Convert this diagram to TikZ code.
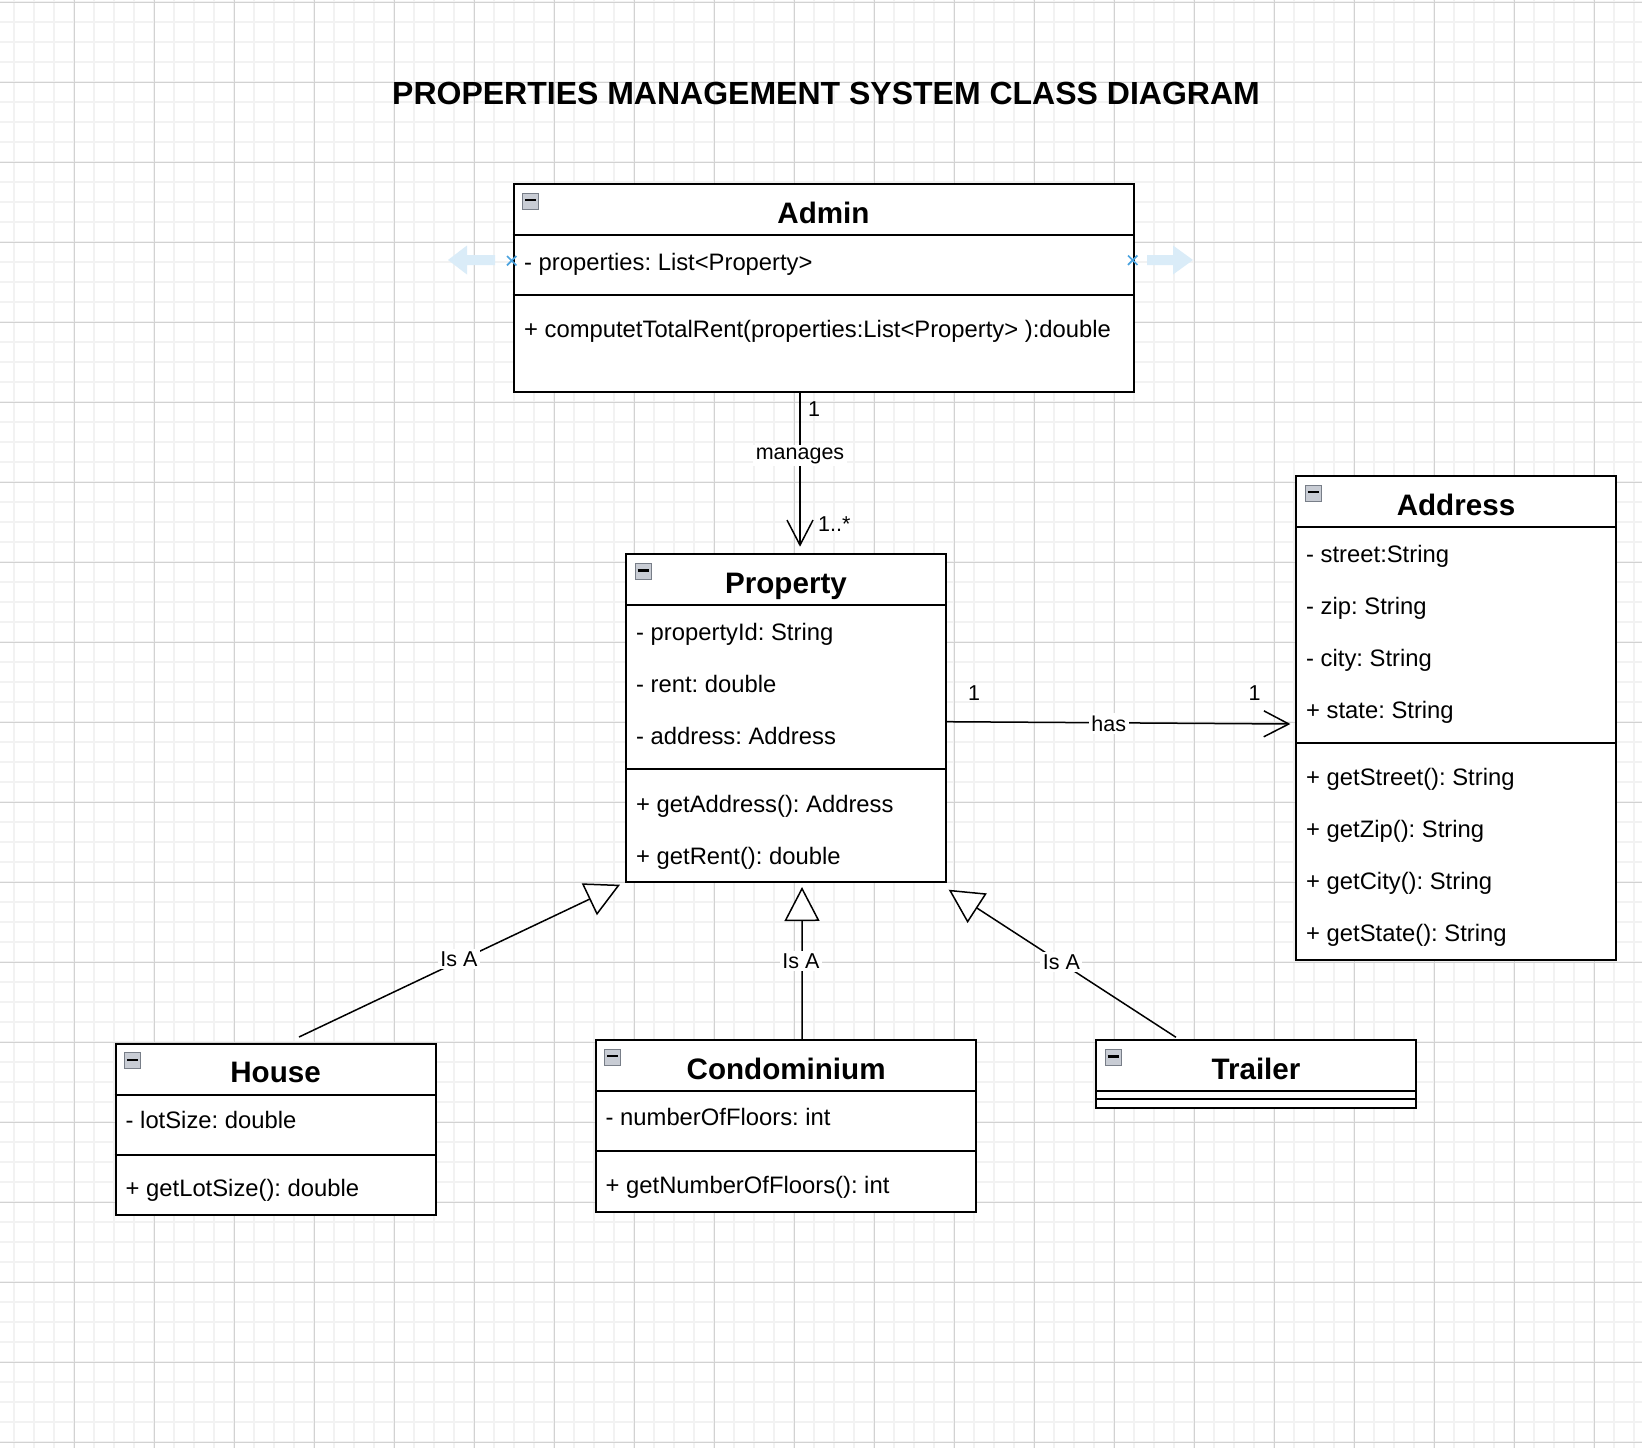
\documentclass[tikz,border=0pt]{standalone}
\usepackage{fontspec}
\setmainfont{Liberation Sans}
\usetikzlibrary{arrows.meta,calc}
\frenchspacing
\definecolor{gridminor}{RGB}{242,242,242}
\definecolor{gridmajor}{RGB}{210,210,210}
\definecolor{handlefill}{RGB}{218,236,248}
\definecolor{handlex}{RGB}{74,163,223}
\definecolor{iconfill}{RGB}{200,204,212}
\definecolor{iconborder}{RGB}{120,126,136}
\tikzset{
  classbox/.style={draw=black, line width=2pt, fill=white, inner sep=0pt, anchor=north west},
  clsname/.style={font=\fontsize{29.6}{34}\selectfont\bfseries, anchor=base, inner sep=0pt},
  member/.style={font=\fontsize{23.8}{28}\selectfont, anchor=base west, inner sep=0pt},
  lbl/.style={font=\fontsize{21.5}{25}\selectfont, anchor=base, inner sep=0pt},
  lblbg/.style={font=\fontsize{21.5}{25}\selectfont, anchor=base, fill=white, inner sep=2.5pt},
  conn/.style={line width=1.5pt, draw=black},
  assoc/.style={conn, -{Straight Barb[length=25pt,width=26pt]}},
  gen/.style={conn, -{Triangle[length=34pt,width=35pt,fill=white]}},
  sepline/.style={line width=2pt},
  iconbox/.style={draw=iconborder, fill=iconfill, line width=1pt, minimum size=16pt, inner sep=0pt, anchor=north west},
}
% #1 name, #2 x, #3 y, #4 width, #5 height, #6 header height, #7 separator offset, #8 title
\newcommand{\umlclass}[8]{%
  \node[classbox, minimum width=#4pt, minimum height=#5pt] (#1) at (#2,#3) {};
  \draw[sepline] ($(#1.north west)+(0,#6)$) -- ($(#1.north east)+(0,#6)$);
  \draw[sepline] ($(#1.north west)+(0,#7)$) -- ($(#1.north east)+(0,#7)$);
  \node[clsname] (#1-name) at ($(#1.north)+(0,40)$) {#8};
  \node[iconbox] (#1-icon) at ($(#1.north west)+(9.5,9.5)$) {};
  \draw[line width=2.2pt] ($(#1-icon.center)+(-5.5,-0.8)$) -- ($(#1-icon.center)+(5.5,-0.8)$);
}
\begin{document}
\begin{tikzpicture}[x=1pt,y=-1pt]
\useasboundingbox (0,0) rectangle (1642,1448);
\fill[white] (0,0) rectangle (1642,1448);
% grid
\foreach \x in {14,34,...,1634} \draw[gridminor, line width=1.6pt] (\x,0) -- (\x,1448);
\foreach \y in {2,22,...,1442} \draw[gridminor, line width=1.6pt] (0,\y) -- (1642,\y);
\foreach \x in {74,154,...,1594} \draw[gridmajor, line width=1pt] (\x,0) -- (\x,1448);
\foreach \y in {2,82,...,1442} \draw[gridmajor, line width=1pt] (0,\y) -- (1642,\y);

% title
\node[font=\fontsize{32}{37}\selectfont\bfseries, anchor=base, inner sep=0pt] (title) at (826,104) {PROPERTIES MANAGEMENT SYSTEM CLASS DIAGRAM};

% classes
\umlclass{admin}{512.5}{183}{620}{207.5}{51.5}{112}{Admin}
\node[member] (admin-a1) at (524,270) {- properties: List<Property>};
\node[member] (admin-m1) at (524,337.5) {+ computetTotalRent(properties:List<Property> ):double};

\umlclass{prop}{625}{553.3}{320}{327.4}{51.7}{215.7}{Property}
\node[member] (prop-a1) at (636,640) {- propertyId: String};
\node[member] (prop-a2) at (636,692) {- rent: double};
\node[member] (prop-a3) at (636,744) {- address: Address};
\node[member] (prop-m1) at (636,812) {+ getAddress(): Address};
\node[member] (prop-m2) at (636,864) {+ getRent(): double};

\umlclass{addr}{1295}{475}{320}{484}{51.7}{267.7}{Address}
\node[member] (addr-a1) at (1306,562) {- street:String};
\node[member] (addr-a2) at (1306,614) {- zip: String};
\node[member] (addr-a3) at (1306,666) {- city: String};
\node[member] (addr-a4) at (1306,718) {+ state: String};
\node[member] (addr-m1) at (1306,785) {+ getStreet(): String};
\node[member] (addr-m2) at (1306,837) {+ getZip(): String};
\node[member] (addr-m3) at (1306,889) {+ getCity(): String};
\node[member] (addr-m4) at (1306,941) {+ getState(): String};

\umlclass{house}{114.5}{1042.7}{320.2}{171.6}{52.3}{112.3}{House}
\node[member] (house-a1) at (125.5,1128.5) {- lotSize: double};
\node[member] (house-m1) at (125.5,1196.7) {+ getLotSize(): double};

\umlclass{condo}{594.8}{1039}{380.6}{171.7}{51.7}{111.7}{Condominium}
\node[member] (condo-a1) at (605.5,1125) {- numberOfFloors: int};
\node[member] (condo-m1) at (605.5,1193.3) {+ getNumberOfFloors(): int};

\umlclass{trailer}{1095}{1039.3}{320}{67.4}{51.7}{59.7}{Trailer}

% selection handles around Admin attribute
\fill[handlefill] (448,260) -- (467,245.5) -- (467,255) -- (495,255) -- (495,265) -- (467,265) -- (467,274.5) -- cycle;
\fill[handlefill] (1193,260) -- (1173,245.5) -- (1173,255) -- (1147,255) -- (1147,265) -- (1173,265) -- (1173,274.5) -- cycle;
\draw[handlex, line width=1.7pt] (507,256) -- (516.4,265.4) (507,265.4) -- (516.4,256);
\draw[handlex, line width=1.7pt] (1128,255.5) -- (1137.4,264.9) (1128,264.9) -- (1137.4,255.5);

% association: manages
\coordinate (mTip) at ($(prop.north)+(14,-6.6)$);
\coordinate (mStart) at (mTip |- admin.south);
\draw[assoc] (mStart) -- (mTip);
\node[lblbg] (manages) at (800,459) {manages};
\node[lbl] (m1) at (814,416.7) {1};
\node[lbl, anchor=base west] (m2) at (818,531.5) {1..*};

% association: has
\coordinate (hasS) at ($(prop.east)+(0,3.7)$);
\coordinate (hasE) at ($(addr.west)+(-4.6,6)$);
\draw[assoc] (hasS) -- (hasE);
\node[lblbg] (has) at (1108.8,731.5) {has};
\node[lbl] (h1) at (974,700.7) {1};
\node[lbl] (h2) at (1254.7,700.7) {1};

% generalizations
\coordinate (gHouseS) at ($(house.north)+(23.4,-5.7)$);
\coordinate (gHouseT) at ($(prop.south west)+(-5,2)$);
\draw[gen] (gHouseS) -- (gHouseT);
\node[lblbg] (isa1) at (459,966.7) {Is A};

\coordinate (gCondoS) at ($(condo.north)+(16,0)$);
\coordinate (gCondoT) at ($(prop.south)+(16,4.3)$);
\draw[gen] (gCondoS) -- (gCondoT);
\node[lblbg] (isa2) at (801,968) {Is A};

\coordinate (gTrailerS) at ($(trailer.north)+(-80,-2)$);
\coordinate (gTrailerT) at ($(prop.south east)+(1.7,7)$);
\draw[gen] (gTrailerS) -- (gTrailerT);
\node[lblbg] (isa3) at (1061.4,969.5) {Is A};
\end{tikzpicture}
\end{document}
